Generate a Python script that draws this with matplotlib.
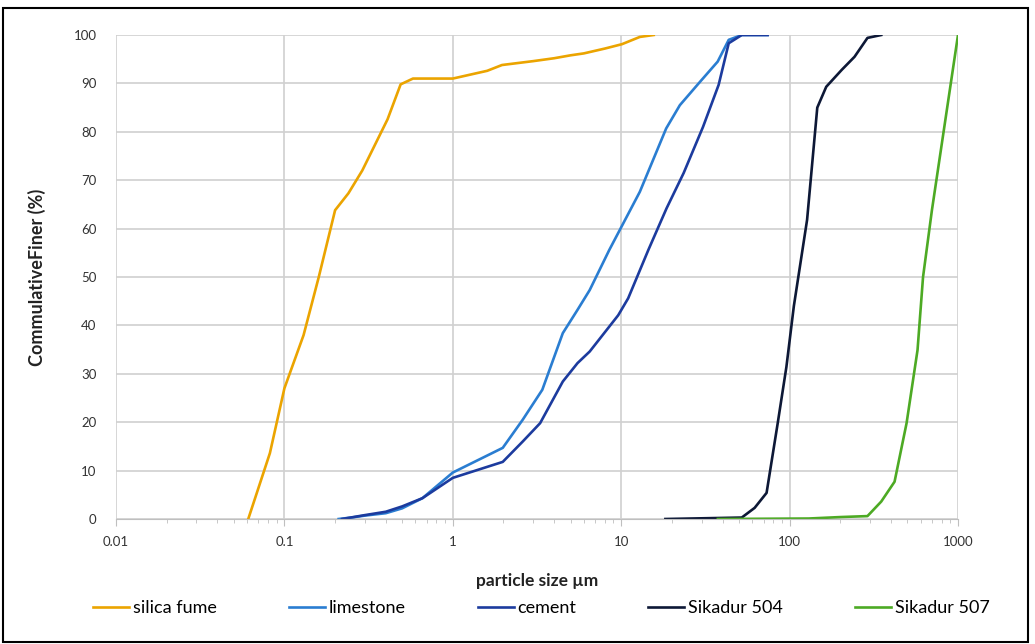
import matplotlib
matplotlib.use("Agg")
import matplotlib.pyplot as plt
from matplotlib.ticker import LogLocator, NullFormatter
from matplotlib.patches import Rectangle

plt.rcParams['font.family'] = ['Lato', 'DejaVu Sans']

series_names = ["silica fume", "limestone", "cement", "Sikadur 504", "Sikadur 507"]
colors = ["#EBA400", "#2A7DD1", "#1C3B9E", "#0D1836", "#4DAA24"]

silica_x = [0.061, 0.082, 0.1, 0.13, 0.16, 0.2, 0.24, 0.29, 0.41, 0.49, 0.58, 1.0, 1.6, 1.96, 3.0, 4.0, 5.0, 6.0, 8.0, 10.1, 12.9, 15.6]
silica_y = [0, 13.6, 27, 38, 50, 63.8, 67.3, 72, 82.6, 89.8, 91, 91, 92.6, 93.8, 94.6, 95.2, 95.8, 96.2, 97.2, 98.1, 99.6, 100]

lime_x = [0.21, 0.25, 0.3, 0.4, 0.5, 0.66, 1.0, 1.98, 2.6, 3.4, 4.5, 5.5, 6.5, 8.5, 12.9, 18.5, 22.3, 29.5, 37.4, 43.5, 52, 74]
lime_y = [0, 0.3, 0.7, 1.2, 2.2, 4.3, 9.6, 14.7, 20.5, 26.7, 38.4, 43.2, 47.3, 55.6, 67.6, 80.7, 85.5, 90.4, 94.5, 99, 100, 100]

cement_x = [0.22, 0.3, 0.4, 0.5, 0.66, 1.0, 1.98, 2.6, 3.3, 4.5, 5.5, 6.5, 9.6, 11, 14.5, 18.6, 23.5, 30.6, 37.9, 43.5, 52, 74]
cement_y = [0, 0.8, 1.5, 2.6, 4.3, 8.5, 11.8, 16, 19.8, 28.4, 32.2, 34.6, 42.1, 45.6, 55.6, 64.2, 71.5, 81, 89.7, 98.3, 100, 100]

s504_x = [18.3, 52, 62, 73, 85, 95.7, 106, 127, 146, 165, 204, 243, 290, 350]
s504_y = [0, 0.3, 2.3, 5.4, 19.8, 31.4, 44, 61.8, 85, 89.3, 92.8, 95.5, 99.4, 100]

s507_x = [37.5, 130, 200, 290, 350, 420, 495, 575, 620, 700, 1000]
s507_y = [0, 0.1, 0.4, 0.6, 3.6, 7.7, 19.8, 34.9, 50, 63.8, 100]

xs = [silica_x, lime_x, cement_x, s504_x, s507_x]
ys = [silica_y, lime_y, cement_y, s504_y, s507_y]

x_ticks = [0.01, 0.1, 1, 10, 100, 1000]
x_ticklabels = ["0.01", "0.1", "1", "10", "100", "1000"]
y_ticks = list(range(0, 101, 10))

fig = plt.figure(figsize=(10.35, 6.44), dpi=100)
ax = fig.add_axes([116/1035, 1-519/644, (958-116)/1035, (519-35)/644])

for x, y, c, n in zip(xs, ys, colors, series_names):
    ax.plot(x, y, color=c, lw=1.9, label=n, solid_joinstyle='round')

ax.set_xscale('log')
ax.set_xlim(0.01, 1000)
ax.set_ylim(0, 100)
ax.set_xticks(x_ticks)
ax.set_xticklabels(x_ticklabels)
ax.xaxis.set_minor_locator(LogLocator(base=10, subs=range(2, 10), numticks=20))
ax.xaxis.set_minor_formatter(NullFormatter())
ax.set_yticks(y_ticks)
ax.grid(True, which='major', color='#D0D0D0', lw=1.2)
ax.set_axisbelow(True)
for s in ['top', 'right', 'left']:
    ax.spines[s].set_visible(False)
ax.spines['bottom'].set_color('#BFBFBF')
ax.tick_params(axis='x', which='major', length=5, color='#BFBFBF', labelsize=9.5, pad=7, labelcolor='#333333')
ax.tick_params(axis='x', which='minor', length=3, color='#BFBFBF')
ax.tick_params(axis='y', length=0, labelsize=9.5, pad=14, labelcolor='#333333')

ax.set_xlabel("particle size µm", fontsize=12.5, fontweight='bold', labelpad=18, color='#222222')
ax.set_ylabel("CommulativeFiner (%)", fontsize=13, fontweight='bold', labelpad=20, color='#222222')

leg = fig.legend(loc='center', bbox_to_anchor=(0.523, 1-608/644), ncol=5, frameon=False,
                 fontsize=13, handlelength=2.0, handletextpad=0.2, columnspacing=4.0)

fig.patches.append(Rectangle((3/1035, 1-642/644), 1025/1035, 634/644, transform=fig.transFigure,
                             fill=False, edgecolor='black', lw=1.5))

fig.savefig("out.png", dpi=100)
